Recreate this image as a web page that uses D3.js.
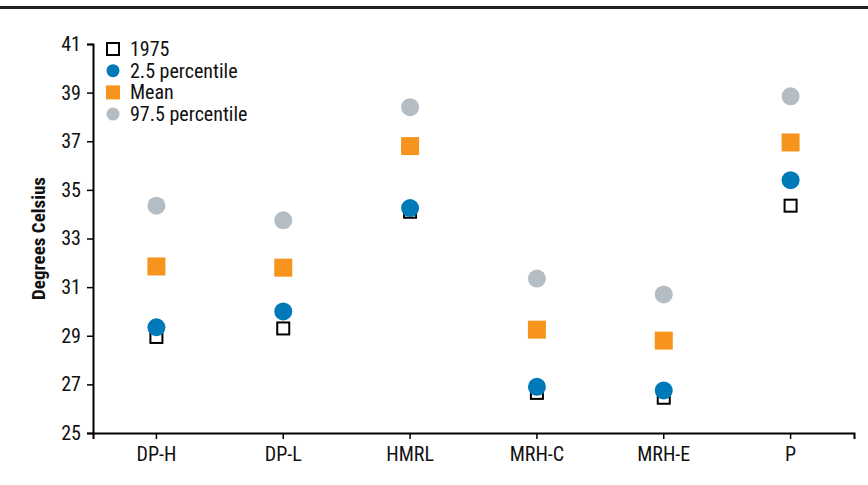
<!DOCTYPE html>
<html>
<head>
<meta charset="utf-8">
<script src="https://cdn.jsdelivr.net/npm/d3@7"></script>
<style>
  body { margin: 0; background: #fff; }
  svg text { font-family: "Liberation Sans Narrow", "Arial Narrow", "Roboto Condensed", sans-serif; }
</style>
</head>
<body>
<div id="chart"></div>
<script>
// Categories and series values (degrees Celsius)
const categories = ['DP-H', 'DP-L', 'HMRL', 'MRH-C', 'MRH-E', 'P'];
const y1975 = [28.95, 29.3, 34.1, 26.65, 26.45, 34.35];
const p025 = [29.35, 30.0, 34.25, 26.9, 26.75, 35.4];
const mean = [31.85, 31.8, 36.8, 29.25, 28.8, 36.95];
const p975 = [34.35, 33.75, 38.4, 31.35, 30.7, 38.85];
const yTicks = [25, 27, 29, 31, 33, 35, 37, 39, 41];

const legendItems = ['1975', '2.5 percentile', 'Mean', '97.5 percentile'];

function initChart() {
  const width = 868;
  const height = 485;
  const margin = { top: 44, right: 14, bottom: 52, left: 93 };
  const innerWidth = width - margin.left - margin.right;
  const innerHeight = height - margin.top - margin.bottom;

  const colors = { blue: '#0079b8', orange: '#f7941d', gray: '#b3bdc3' };

  const svg = d3.select('#chart')
    .append('svg')
    .attr('width', width)
    .attr('height', height);

  // Top rule
  svg.append('rect')
    .attr('x', 0)
    .attr('y', 6)
    .attr('width', width)
    .attr('height', 3)
    .attr('fill', '#231f20');

  const g = svg.append('g')
    .attr('transform', `translate(${margin.left},${margin.top})`);

  // Scales
  const xScale = d3.scaleBand()
    .domain(categories)
    .range([0, innerWidth]);

  const yScale = d3.scaleLinear()
    .domain([25, 41])
    .range([innerHeight, 0]);

  const cx = d => xScale(d) + xScale.bandwidth() / 2;

  // Axes
  const xAxis = g.append('g')
    .attr('transform', `translate(0,${innerHeight})`)
    .call(d3.axisBottom(xScale).tickSizeOuter(0).tickSize(6).tickPadding(8));

  const yAxis = g.append('g')
    .call(d3.axisLeft(yScale).tickValues(yTicks).tickSizeOuter(0).tickSize(6).tickPadding(6));

  [xAxis, yAxis].forEach(axis => {
    axis.select('.domain')
      .style('stroke', '#000')
      .style('stroke-width', 2);
    axis.selectAll('line')
      .style('stroke', '#000')
      .style('stroke-width', 1.5);
    axis.selectAll('text')
      .style('fill', '#111')
      .style('font-size', '20px');
  });

  // Axis title
  g.append('text')
    .attr('transform', 'rotate(-90)')
    .attr('x', -innerHeight / 2)
    .attr('y', -48)
    .style('text-anchor', 'middle')
    .style('font-size', '19px')
    .style('font-weight', 'bold')
    .style('fill', '#111')
    .text('Degrees Celsius');

  // Markers
  const sq = 18;
  const hollow = 12;
  const r = 9;

  // 97.5 percentile
  g.selectAll('.p975')
    .data(categories)
    .enter().append('circle')
    .attr('cx', d => cx(d))
    .attr('cy', (d, i) => yScale(p975[i]))
    .attr('r', r)
    .attr('fill', colors.gray);

  // Mean
  g.selectAll('.mean')
    .data(categories)
    .enter().append('rect')
    .attr('x', d => cx(d) - sq / 2)
    .attr('y', (d, i) => yScale(mean[i]) - sq / 2)
    .attr('width', sq)
    .attr('height', sq)
    .attr('fill', colors.orange);

  // 1975
  g.selectAll('.y1975')
    .data(categories)
    .enter().append('rect')
    .attr('x', d => cx(d) - hollow / 2)
    .attr('y', (d, i) => yScale(y1975[i]) - hollow / 2)
    .attr('width', hollow)
    .attr('height', hollow)
    .attr('fill', '#fff')
    .attr('stroke', '#000')
    .attr('stroke-width', 2);

  // 2.5 percentile
  g.selectAll('.p025')
    .data(categories)
    .enter().append('circle')
    .attr('cx', d => cx(d))
    .attr('cy', (d, i) => yScale(p025[i]))
    .attr('r', r)
    .attr('fill', colors.blue);

  // Legend
  const legend = svg.append('g')
    .attr('transform', `translate(113, 49)`);

  legendItems.forEach((name, i) => {
    const item = legend.append('g')
      .attr('transform', `translate(0, ${i * 21.7})`);
    if (i === 0) {
      item.append('rect')
        .attr('x', -6).attr('y', -6)
        .attr('width', 12).attr('height', 12)
        .attr('fill', '#fff')
        .attr('stroke', '#000')
        .attr('stroke-width', 2);
    } else if (i === 1) {
      item.append('circle').attr('r', 6.5).attr('fill', colors.blue);
    } else if (i === 2) {
      item.append('rect')
        .attr('x', -7).attr('y', -7)
        .attr('width', 14).attr('height', 14)
        .attr('fill', colors.orange);
    } else {
      item.append('circle').attr('r', 6.5).attr('fill', colors.gray);
    }
    item.append('text')
      .attr('x', 17)
      .attr('y', 0)
      .attr('dy', '0.35em')
      .style('font-size', '20px')
      .style('fill', '#111')
      .text(name);
  });
}

initChart();
</script>
</body>
</html>
